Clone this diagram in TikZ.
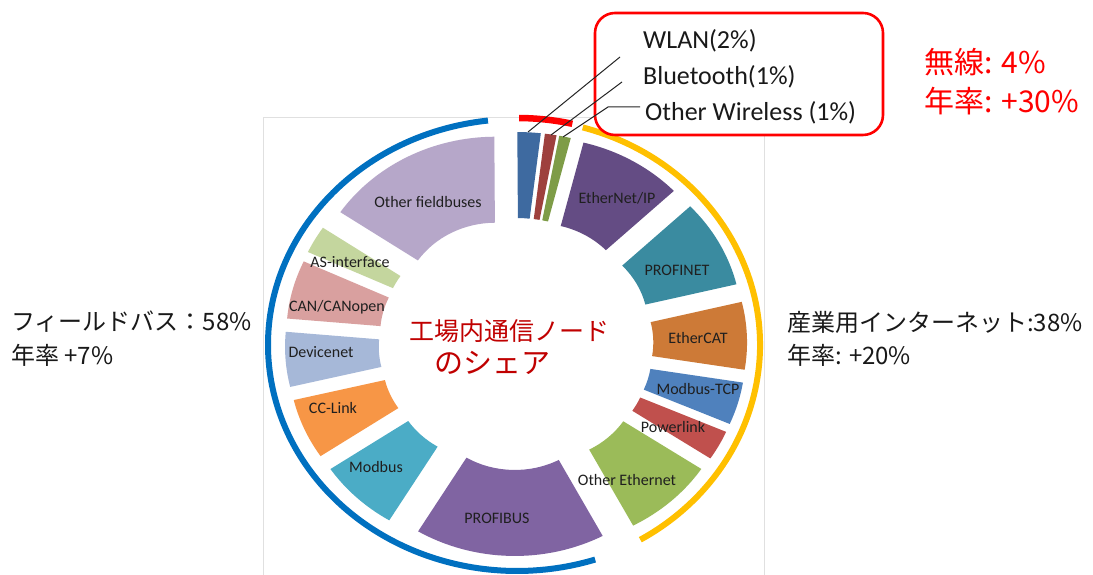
\documentclass[tikz,border=0pt]{standalone}
\usepackage{fontspec}
\setmainfont{Carlito}
\newfontfamily\jp{Noto Sans CJK JP}
\definecolor{cWLAN}{HTML}{3E6AA0}
\definecolor{cBT}{HTML}{9E403D}
\definecolor{cOW}{HTML}{7E9C47}
\definecolor{cEIP}{HTML}{644C84}
\definecolor{cPN}{HTML}{3A8BA0}
\definecolor{cECAT}{HTML}{CD7A37}
\definecolor{cMTCP}{HTML}{4F81BD}
\definecolor{cPL}{HTML}{C0504D}
\definecolor{cOE}{HTML}{9BBB59}
\definecolor{cPB}{HTML}{8064A2}
\definecolor{cMB}{HTML}{4BACC6}
\definecolor{cCC}{HTML}{F79646}
\definecolor{cDN}{HTML}{A6B8D8}
\definecolor{cCAN}{HTML}{D9A09F}
\definecolor{cASi}{HTML}{C4D69E}
\definecolor{cOF}{HTML}{B6A7C9}
\definecolor{arcBlue}{HTML}{0070C0}
\definecolor{arcOrange}{HTML}{FFC000}
\definecolor{darkRed}{HTML}{C00000}
\newcommand{\dd}{40}
\newcommand{\ri}{86}
\newcommand{\ro}{172}
\newcommand{\seg}[3]{%
  \pgfmathsetmacro\segm{(#1+#2)/2}%
  \pgfmathsetmacro\sx{\dd*cos(\segm)}%
  \pgfmathsetmacro\sy{\dd*sin(\segm)}%
  \fill[#3] ({\sx+\ri*cos(#1)},{\sy+\ri*sin(#1)}) arc[start angle=#1, end angle=#2, radius=\ri]
    -- ({\sx+\ro*cos(#2)},{\sy+\ro*sin(#2)}) arc[start angle=#2, end angle=#1, radius=\ro] -- cycle;}
\tikzset{
  seglabel/.style={font=\fontsize{16}{18}\selectfont, inner sep=0pt, text=black!88},
  wlabel/.style={font=\fontsize{26}{30}\selectfont, inner sep=0pt, anchor=west, text=black!90},
  jlabel/.style={font=\jp\fontsize{24}{28}\selectfont, inner sep=0pt, anchor=west, text=black!90},
  rlabel/.style={font=\jp\fontsize{30}{34}\selectfont, inner sep=0pt, anchor=west, text=red},
  clabel/.style={font=\jp\fontsize{25}{30}\selectfont, inner sep=0pt, text=darkRed},
  leader/.style={draw=black!85, line width=1pt},
  bigarc/.style={line width=6pt}
}
\begin{document}
\begin{tikzpicture}[x=1pt,y=1pt]
\useasboundingbox (0,0) rectangle (1093,575);
\fill[white] (0,0) rectangle (1093,575);
% chart area border
\draw[black!12, line width=0.8pt] (263,0) -- (263,458) -- (764,458) -- (764,0);
% slices
\begin{scope}[shift={(516,231)}, xscale=1.09]
\seg{83.15}{90.35}{cWLAN}
\seg{79.55}{83.15}{cBT}
\seg{75.95}{79.55}{cOW}
\seg{43.55}{75.95}{cEIP}
\seg{13.65}{43.55}{cPN}
\seg{-9.15}{13.65}{cECAT}
\seg{-23.55}{-9.15}{cMTCP}
\seg{-33.65}{-23.55}{cPL}
\seg{-62.05}{-33.65}{cOE}
\seg{-121.05}{-62.05}{cPB}
\seg{-146.05}{-121.05}{cMB}
\seg{-166.55}{-146.05}{cCC}
\seg{-185.05}{-166.55}{cDN}
\seg{-204.85}{-185.05}{cCAN}
\seg{-214.15}{-204.85}{cASi}
\seg{-269.65}{-214.15}{cOF}
\end{scope}
% group arcs
\coordinate (C) at (517,230);
\draw[bigarc, arcBlue] (C) ++(96.7:249 and 226) arc[start angle=96.7, end angle=288.3, x radius=249, y radius=226];
\draw[bigarc, arcOrange] (C) ++(74.3:243 and 226) arc[start angle=74.3, end angle=-59.5, x radius=243, y radius=226];
\draw[bigarc, red, line width=6.5pt] (C) ++(89.5:246 and 227) arc[start angle=89.5, end angle=77, x radius=246, y radius=227];
% slice labels
\node[seglabel] (lOF) at (428,373) {Other fieldbuses};
\node[seglabel] (lASi) at (350,313) {AS-interface};
\node[seglabel] (lCAN) at (337,268) {CAN/CANopen};
\node[seglabel] (lDN) at (321,223) {Devicenet};
\node[seglabel] (lCC) at (333,167) {CC-Link};
\node[seglabel] (lMB) at (376,108) {Modbus};
\node[seglabel] (lPB) at (497,57) {PROFIBUS};
\node[seglabel] (lOE) at (627,95) {Other Ethernet};
\node[seglabel] (lPL) at (673,148) {Powerlink};
\node[seglabel] (lMTCP) at (698,186) {Modbus-TCP};
\node[seglabel] (lECAT) at (698,237) {EtherCAT};
\node[seglabel] (lPN) at (677,305) {PROFINET};
\node[seglabel] (lEIP) at (617,377) {EtherNet/IP};
% wireless callout box
\draw[red, line width=2.6pt, fill=white, rounded corners=20pt] (595,440) rectangle (883,562);
\node[wlabel] (tWLAN) at (643,534) {WLAN(2\%)};
\node[wlabel] (tBT) at (643,498) {Bluetooth(1\%)};
\node[wlabel] (tOW) at (645,462) {Other Wireless (1\%)};
\coordinate (wlanTop) at (528,443);
\coordinate (wlanEnd) at (620,518);
\coordinate (btTop) at (551,440);
\coordinate (btEnd) at (622,493);
\coordinate (owTop) at (563,438);
\coordinate (owBend) at (608,468);
\coordinate (owEnd) at (640,468);
\draw[leader] (wlanTop) -- (wlanEnd);
\draw[leader] (btTop) -- (btEnd);
\draw[leader] (owTop) -- (owBend) -- (owEnd);
% red summary
\node[rlabel] (rw1) at (924,513) {無線: 4\%};
\node[rlabel] (rw2) at (924,474) {年率: +30\%};
% left / right summaries
\node[jlabel] (fb1) at (11,253) {フィールドバス：58\%};
\node[jlabel] (fb2) at (11,220) {年率 +7\%};
\node[jlabel] (ie1) at (787,253) {産業用インターネット:38\%};
\node[jlabel] (ie2) at (787,220) {年率: +20\%};
% centre title
\node[clabel] (c1) at (509,244) {工場内通信ノード};
\node[clabel, font=\jp\fontsize{29}{32}\selectfont] (c2) at (492,212) {のシェア};
\end{tikzpicture}
\end{document}
